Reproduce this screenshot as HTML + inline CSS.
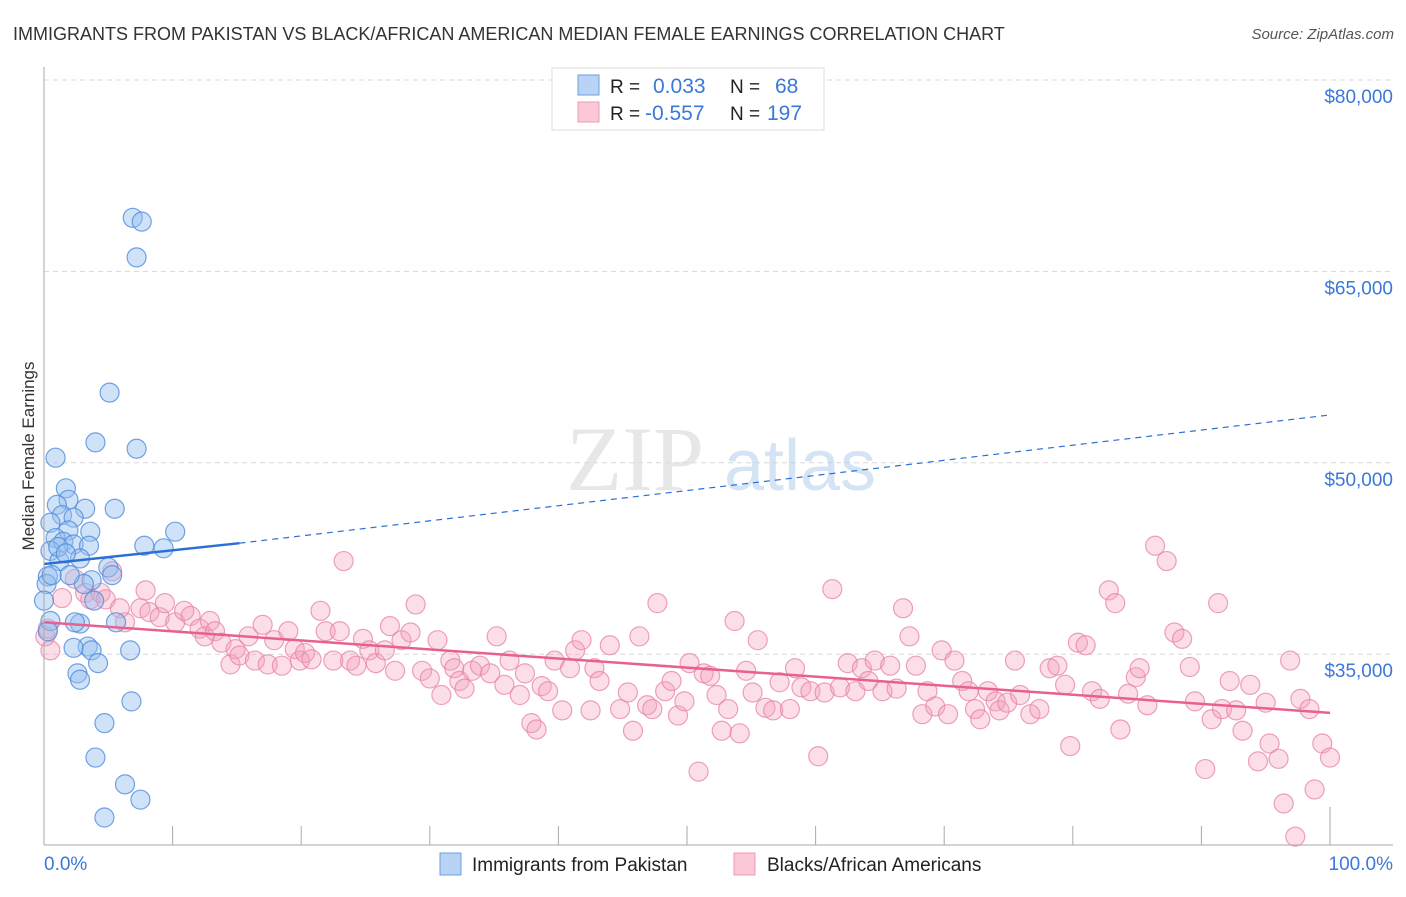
<!DOCTYPE html>
<html><head><meta charset="utf-8">
<style>
html,body{margin:0;padding:0;background:#fff;}
body{width:1406px;height:892px;overflow:hidden;font-family:"Liberation Sans",sans-serif;}
</style></head>
<body>
<svg id="chart" width="1406" height="892" xmlns="http://www.w3.org/2000/svg" font-family="Liberation Sans, sans-serif">
<text x="13" y="40" font-size="18" fill="#333">IMMIGRANTS FROM PAKISTAN VS BLACK/AFRICAN AMERICAN MEDIAN FEMALE EARNINGS CORRELATION CHART</text>
<text x="1394" y="39" font-size="15" fill="#555" text-anchor="end" font-style="italic">Source: ZipAtlas.com</text>
<g id="grid"></g>
<g>
<text x="635" y="490" font-size="92" fill="#ddd" font-family="Liberation Serif, serif" text-anchor="middle" opacity="0.7">ZIP</text>
<text x="800" y="490" font-size="72" fill="#b9d3ef" text-anchor="middle" opacity="0.6">atlas</text>
</g>
<g id="pink"></g>
<g id="blue"></g>
<g id="lines"></g>
<g id="axes"></g>
<text transform="translate(34,456) rotate(-90)" font-size="17" fill="#333" text-anchor="middle">Median Female Earnings</text>
<g>
<rect x="552" y="68" width="272" height="62" fill="#fff" stroke="#ddd"/>
<rect x="578" y="75" width="21" height="20" fill="#b8d3f5" stroke="#6e9de0"/>
<rect x="578" y="102" width="21" height="20" fill="#fbc8d6" stroke="#ec9ab3"/>
<text x="610" y="93" font-size="19" fill="#222">R = </text><text x="653" y="93" font-size="21" fill="#3b78d8">0.033</text>
<text x="730" y="93" font-size="19" fill="#222">N = </text><text x="775" y="93" font-size="21" fill="#3b78d8">68</text>
<text x="610" y="120" font-size="19" fill="#222">R = </text><text x="645" y="120" font-size="21" fill="#3b78d8">-0.557</text>
<text x="730" y="120" font-size="19" fill="#222">N = </text><text x="767" y="120" font-size="21" fill="#3b78d8">197</text>
</g>
<g>
<rect x="440" y="853" width="21" height="22" fill="#b8d3f5" stroke="#6e9de0"/>
<text x="472" y="871" font-size="19" fill="#222">Immigrants from Pakistan</text>
<rect x="734" y="853" width="21" height="22" fill="#fbc8d6" stroke="#ec9ab3"/>
<text x="767" y="871" font-size="19" fill="#222">Blacks/African Americans</text>
</g>
</svg>
<script>
const yTicks=[35000,50000,65000,80000];
const yTickLabels=["$35,000","$50,000","$65,000","$80,000"];
const xTicks=[0,10,20,30,40,50,60,70,80,90,100];
const xEndLabels=["0.0%","100.0%"];
const blueX=[6.9,7.6,7.2,5.1,0.9,4.0,7.2,1.7,1.9,1.0,3.2,5.5,1.4,2.3,0.5,10.2,3.6,1.9,0.9,1.5,2.3,7.8,3.5,9.3,0.5,2.8,1.2,5.0,0.3,3.7,3.1,5.3,0.2,3.9,2.8,2.4,5.6,3.4,2.3,6.7,3.7,4.2,2.6,2.8,4.7,6.8,4.0,6.3,7.5,4.7,0.5,0.3,1.1,1.7,0.6,2.0,0];
const blueY=[69.2,68.9,66.1,55.5,50.4,51.6,51.1,48.0,47.1,46.7,46.4,46.4,45.9,45.7,45.3,44.6,44.6,44.7,44.1,43.8,43.6,43.5,43.5,43.3,43.1,42.5,42.3,41.8,41.1,40.8,40.5,41.2,40.5,39.2,37.4,37.5,37.5,35.6,35.5,35.3,35.3,34.3,33.5,33.0,29.6,31.3,26.9,24.8,23.6,22.2,37.6,36.8,43.4,42.9,41.2,41.2,39.2];
const pinkX=[0.1,0.5,0.3,1.4,2.4,3.2,3.6,4.4,4.8,5.3,5.9,6.3,7.5,7.9,8.2,9.0,9.4,10.2,10.9,11.4,12.1,12.5,12.9,13.3,13.8,14.5,14.9,15.2,15.9,16.4,17.0,17.4,17.9,18.5,19.0,19.5,19.9,20.3,20.8,21.5,21.9,22.5,23.0,23.3,23.8,24.3,24.8,25.3,25.8,26.5,26.9,27.3,27.8,28.5,28.9,29.4,30.0,30.6,30.9,31.6,31.9,32.3,32.7,33.3,33.9,34.7,35.2,35.8,36.2,37.0,37.4,37.9,38.3,38.7,39.2,39.7,40.3,40.9,41.3,41.8,42.5,42.8,43.2,44.0,44.8,45.4,45.8,46.3,46.9,47.3,47.7,48.3,48.8,49.3,49.8,50.2,50.9,51.3,51.8,52.3,52.7,53.2,53.7,54.1,54.6,55.1,55.5,56.1,56.7,57.2,58.0,58.4,58.9,59.6,60.2,60.7,61.3,61.9,62.5,63.1,63.6,64.1,64.6,65.2,65.8,66.3,66.8,67.3,67.8,68.3,68.7,69.3,69.8,70.3,70.8,71.4,71.9,72.4,72.8,73.4,74.0,74.3,74.9,75.5,75.9,76.7,77.4,78.2,78.8,79.4,79.8,80.4,81.0,81.5,82.1,82.8,83.3,83.7,84.3,84.9,85.2,85.8,86.4,87.3,87.9,88.5,89.1,89.5,90.3,90.8,91.3,91.6,92.2,92.7,93.2,93.8,94.4,95.0,95.3,96.0,96.4,96.9,97.3,97.7,98.4,98.8,99.4,100];
const pinkY=[36.4,35.3,37.0,39.4,40.9,39.8,39.3,39.8,39.3,41.5,38.6,37.5,38.6,40.0,38.3,37.9,39.0,37.5,38.4,38.0,37.0,36.4,37.6,36.8,35.9,34.2,35.4,34.9,36.4,34.5,37.3,34.2,36.1,34.1,36.8,35.4,34.5,35.1,34.6,38.4,36.8,34.5,36.8,42.3,34.5,34.1,36.2,35.3,34.3,35.3,37.2,33.7,36.1,36.7,38.9,33.7,33.1,36.1,31.8,34.5,33.9,32.9,32.3,33.7,34.1,33.5,36.4,32.6,34.5,31.8,33.5,29.6,29.1,32.5,32.1,34.5,30.6,33.9,35.3,36.1,30.6,33.9,32.9,35.7,30.7,32.0,29.0,36.4,31.0,30.7,39.0,32.1,32.9,30.2,31.3,34.3,25.8,33.5,33.3,31.8,29.0,30.7,37.6,28.8,33.7,32.0,36.1,30.8,30.6,32.8,30.7,33.9,32.4,32.1,27.0,32.0,40.1,32.4,34.3,32.1,33.9,32.9,34.5,32.1,34.1,32.3,38.6,36.4,34.1,30.3,32.1,30.9,35.3,30.3,34.5,32.9,32.1,30.7,29.9,32.1,31.3,30.6,31.2,34.5,31.8,30.3,30.7,33.9,34.1,32.6,27.8,35.9,35.7,32.1,31.5,40.0,39.0,29.1,31.9,33.2,33.9,31.0,43.5,42.3,36.7,36.2,34.0,31.3,26.0,29.9,39.0,30.7,32.9,30.6,29.0,32.6,26.6,31.2,28.0,26.8,23.3,34.5,20.7,31.5,30.7,24.4,28.0,26.9];
const blueLine=[[0,42.07],[15.2,43.7],[100,53.75]];
const pinkLine=[[0,37.5],[100,30.4]];

const NS="http://www.w3.org/2000/svg";
const X0=44,X1=1330,YTOP=80,PXPER=12.76;
function xs(p){return X0+(p/100)*(X1-X0);}
function ys(v){return YTOP+(80-v)*PXPER;}
function mk(tag,attrs,parent){const e=document.createElementNS(NS,tag);for(const k in attrs)e.setAttribute(k,attrs[k]);parent.appendChild(e);return e;}
const grid=document.getElementById('grid');
yTicks.forEach((t,i)=>{
  const y=ys(t/1000);
  const l=mk('line',{x1:X0,x2:1393,y1:y,y2:y,stroke:'#d8d8d8','stroke-dasharray':'5,4'},grid);
  
  
  const tx=mk('text',{x:1393,y:y+23,'font-size':19,fill:'#3b78d8','text-anchor':'end'},grid);
  tx.textContent=yTickLabels[i];
  
  
});
const axes=document.getElementById('axes');
const ya=mk('line',{x1:X0,x2:X0,y1:67,y2:845,stroke:'#aaa'},axes);


const xa=mk('line',{x1:X0,x2:1393,y1:845,y2:845,stroke:'#aaa'},axes);


xTicks.forEach((t,i)=>{
  const x=xs(t);
  const tk=mk('line',{x1:x,x2:x,y1:(i===xTicks.length-1?807:826),y2:845,stroke:'#aaa'},axes);
  
  
});
const xl0=mk('text',{x:44,y:870,'font-size':19,fill:'#3b78d8'},axes);
xl0.textContent=xEndLabels[0];


const xl1=mk('text',{x:1393,y:870,'font-size':19,fill:'#3b78d8','text-anchor':'end'},axes);
xl1.textContent=xEndLabels[1];



const pg=document.getElementById('pink');
pinkX.forEach((v,i)=>{
  const c=mk('circle',{cx:xs(v),cy:ys(pinkY[i]),r:9.5,fill:'rgba(244,160,188,0.35)',stroke:'rgba(232,130,165,0.75)','stroke-width':1.2},pg);
  
  
});
const bg=document.getElementById('blue');
blueX.forEach((v,i)=>{
  const c=mk('circle',{cx:xs(v),cy:ys(blueY[i]),r:9.5,fill:'rgba(150,190,240,0.45)',stroke:'rgba(80,140,220,0.8)','stroke-width':1.2},bg);
  
  
});
const lg=document.getElementById('lines');
const bs=mk('line',{x1:xs(blueLine[0][0]),y1:ys(blueLine[0][1]),x2:xs(blueLine[1][0]),y2:ys(blueLine[1][1]),stroke:'#2a6fd6','stroke-width':2.5},lg);


const bd=mk('line',{x1:xs(blueLine[1][0]),y1:ys(blueLine[1][1]),x2:xs(blueLine[2][0]),y2:ys(blueLine[2][1]),stroke:'#2a6fd6','stroke-width':1.2,'stroke-dasharray':'6,5'},lg);


const pl=mk('line',{x1:xs(pinkLine[0][0]),y1:ys(pinkLine[0][1]),x2:xs(pinkLine[1][0]),y2:ys(pinkLine[1][1]),stroke:'#e8608f','stroke-width':2.5},lg);


</script>
</body></html>
